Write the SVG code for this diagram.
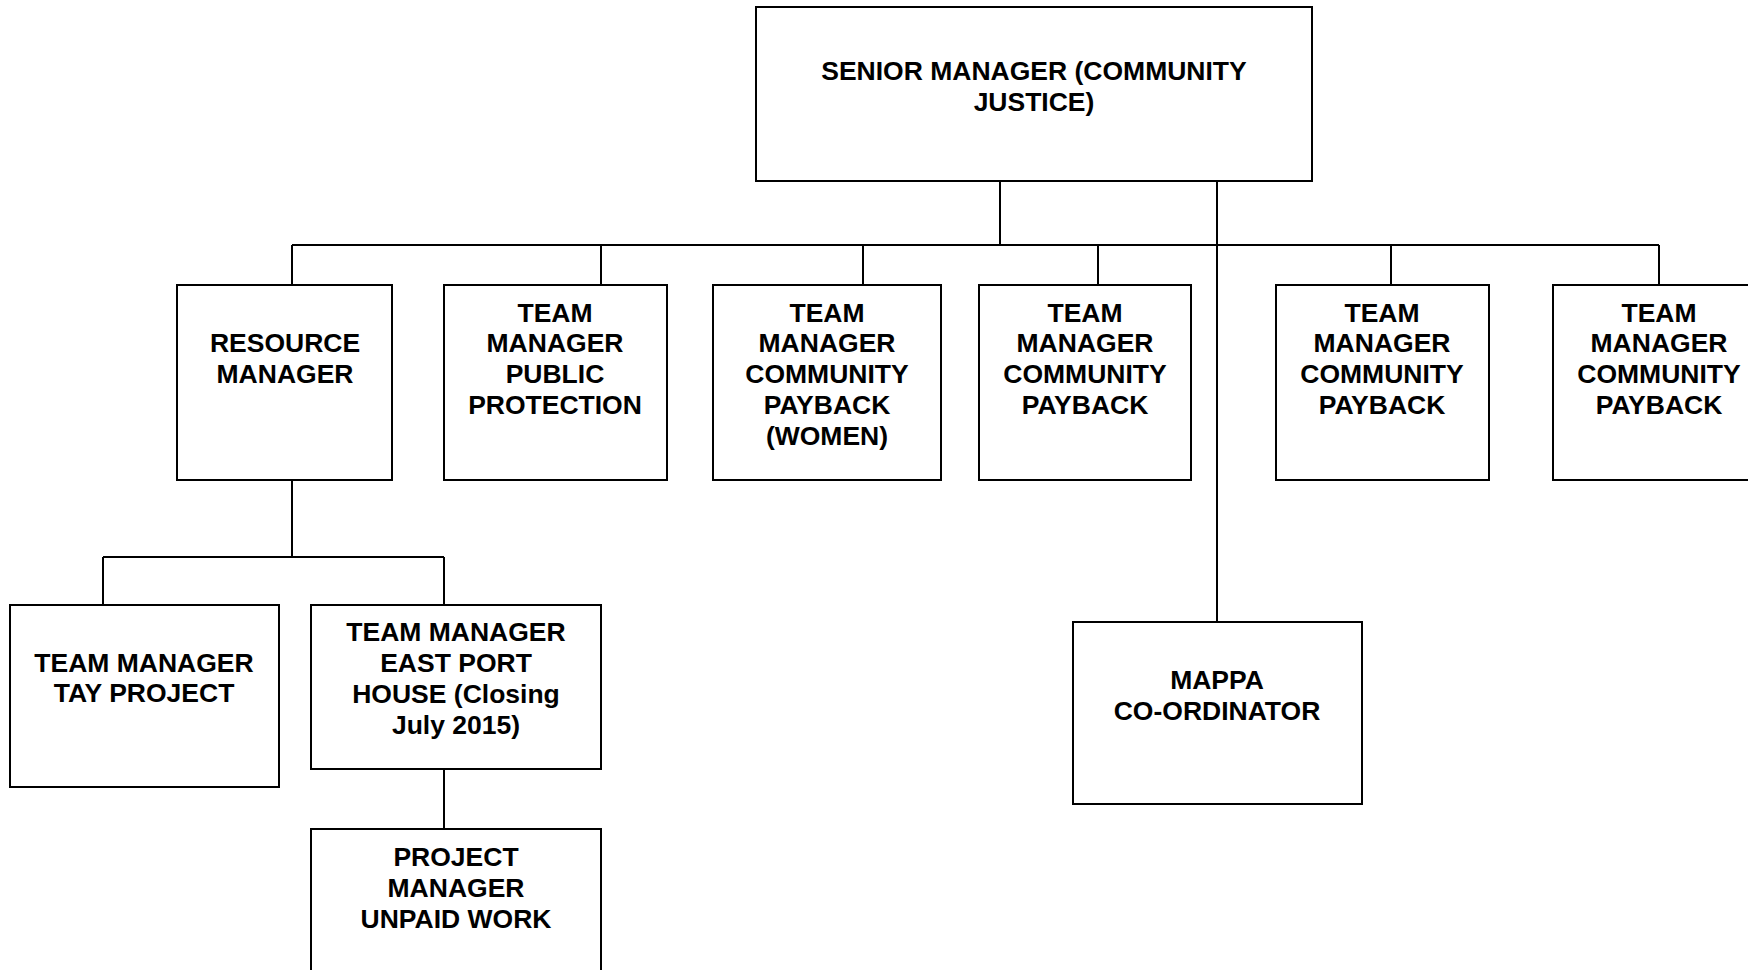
<svg xmlns="http://www.w3.org/2000/svg" width="1748" height="970" viewBox="0 0 1748 970">
<style>
.box{fill:#fff;stroke:#000;stroke-width:2}
.c{fill:none;stroke:#000;stroke-width:2}
text{font-family:"Liberation Sans",Arial,sans-serif;font-weight:bold;font-size:26.5px;fill:#000;text-anchor:middle}
</style>
<rect width="1748" height="970" fill="#fff"/>
<g id="connectors">
<path class="c" d="M1000 181V245M1217 181V622M292 245H1659M292 245V285M601 245V285M863 245V285M1098 245V285M1391 245V285M1659 245V285"/>
<path class="c" d="M292 480V557M103 557H444M103 557V605M444 557V605M444 769V829"/>
</g>
<g id="senior"><rect class="box" x="756" y="7" width="556" height="174"/>
<text x="1034" y="80">SENIOR MANAGER (COMMUNITY</text><text x="1034" y="111">JUSTICE)</text></g>
<g id="resource"><rect class="box" x="177" y="285" width="215" height="195"/>
<text x="285" y="352">RESOURCE</text><text x="285" y="383">MANAGER</text></g>
<g id="public"><rect class="box" x="444" y="285" width="223" height="195"/>
<text x="555" y="322">TEAM</text><text x="555" y="352">MANAGER</text><text x="555" y="383">PUBLIC</text><text x="555" y="414">PROTECTION</text></g>
<g id="women"><rect class="box" x="713" y="285" width="228" height="195"/>
<text x="827" y="322">TEAM</text><text x="827" y="352">MANAGER</text><text x="827" y="383">COMMUNITY</text><text x="827" y="414">PAYBACK</text><text x="827" y="445">(WOMEN)</text></g>
<g id="payback1"><rect class="box" x="979" y="285" width="212" height="195"/>
<text x="1085" y="322">TEAM</text><text x="1085" y="352">MANAGER</text><text x="1085" y="383">COMMUNITY</text><text x="1085" y="414">PAYBACK</text></g>
<g id="payback2"><rect class="box" x="1276" y="285" width="213" height="195"/>
<text x="1382" y="322">TEAM</text><text x="1382" y="352">MANAGER</text><text x="1382" y="383">COMMUNITY</text><text x="1382" y="414">PAYBACK</text></g>
<g id="payback3"><rect class="box" x="1553" y="285" width="213" height="195"/>
<text x="1659" y="322">TEAM</text><text x="1659" y="352">MANAGER</text><text x="1659" y="383">COMMUNITY</text><text x="1659" y="414">PAYBACK</text></g>
<g id="tay"><rect class="box" x="10" y="605" width="269" height="182"/>
<text x="144" y="672">TEAM MANAGER</text><text x="144" y="702">TAY PROJECT</text></g>
<g id="eastport"><rect class="box" x="311" y="605" width="290" height="164"/>
<text x="456" y="641">TEAM MANAGER</text><text x="456" y="672">EAST PORT</text><text x="456" y="703">HOUSE (Closing</text><text x="456" y="734">July 2015)</text></g>
<g id="unpaid"><rect class="box" x="311" y="829" width="290" height="160"/>
<text x="456" y="866">PROJECT</text><text x="456" y="897">MANAGER</text><text x="456" y="928">UNPAID WORK</text></g>
<g id="mappa"><rect class="box" x="1073" y="622" width="289" height="182"/>
<text x="1217" y="689">MAPPA</text><text x="1217" y="720">CO-ORDINATOR</text></g>
</svg>
